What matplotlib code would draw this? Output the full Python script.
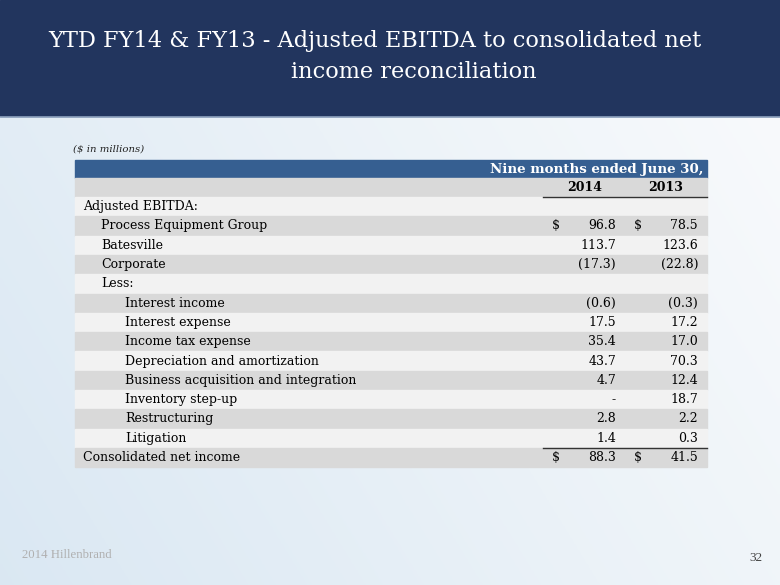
import numpy as np
import matplotlib.pyplot as plt
from matplotlib.patches import Rectangle

title_lines = ["YTD FY14 & FY13 - Adjusted EBITDA to consolidated net",
               "income reconciliation"]
units = "($ in millions)"
period = "Nine months ended June 30,"
years = ["2014", "2013"]

labels = ["Adjusted EBITDA:", "Process Equipment Group", "Batesville", "Corporate",
          "Less:", "Interest income", "Interest expense", "Income tax expense",
          "Depreciation and amortization", "Business acquisition and integration",
          "Inventory step-up", "Restructuring", "Litigation", "Consolidated net income"]
indent = [0, 1, 1, 1, 1, 2, 2, 2, 2, 2, 2, 2, 2, 0]
v2014 = ["", "96.8", "113.7", "(17.3)", "", "(0.6)", "17.5", "35.4", "43.7",
         "4.7", "-", "2.8", "1.4", "88.3"]
v2013 = ["", "78.5", "123.6", "(22.8)", "", "(0.3)", "17.2", "17.0", "70.3",
         "12.4", "18.7", "2.2", "0.3", "41.5"]
dollar_rows = [1, 13]

W, H = 780, 585
fig = plt.figure(figsize=(W / 100, H / 100), dpi=100)
ax = fig.add_axes([0, 0, 1, 1])
ax.set_xlim(0, W)
ax.set_ylim(H, 0)
ax.axis("off")

# background gradient
gx = np.linspace(0, 1, 200)
gy = np.linspace(0, 1, 200)
GX, GY = np.meshgrid(gx, gy)
g = np.clip(0.65 * GX + 0.3 * (1 - GY) + 0.05, 0, 1)
c0 = np.array([0.85, 0.905, 0.95])
c1 = np.array([0.98, 0.985, 0.99])
img = c0[None, None, :] * (1 - g[..., None]) + c1[None, None, :] * g[..., None]
ax.imshow(img, extent=[0, W, H, 0], aspect="auto", zorder=0)

# header banner
ax.add_patch(Rectangle((0, 0), W, 116, color="#22355e", zorder=1))
ax.plot([0, W], [116.5, 116.5], color="#8fa3bf", lw=1.2, zorder=2)
ax.text(375, 41, title_lines[0], color="white", fontsize=16.2, family="DejaVu Serif",
        ha="center", va="center", zorder=3)
ax.text(414, 72, title_lines[1], color="white", fontsize=16.2, family="DejaVu Serif",
        ha="center", va="center", zorder=3)

serif = "DejaVu Serif"
fs = 9
x0, x1 = 75, 707
ax.text(73, 149, units, fontsize=7.3, style="italic", family=serif, ha="left",
        va="center", color="#222222")

# table header rows
ax.add_patch(Rectangle((x0, 160), x1 - x0, 17.5, color="#365f91", zorder=1))
ax.text(703, 169, period, color="white", fontsize=9.6, weight="bold", family=serif,
        ha="right", va="center", zorder=3)
ax.add_patch(Rectangle((x0, 177.5), x1 - x0, 19.5, color="#d9d9d9", zorder=1))
ax.text(585, 187.5, years[0], fontsize=fs, weight="bold", family=serif,
        ha="center", va="center")
ax.text(666, 187.5, years[1], fontsize=fs, weight="bold", family=serif,
        ha="center", va="center")
ax.plot([543, x1], [197, 197], color="#333333", lw=1.0, zorder=3)

indent_x = [83, 101, 125]
top = 197
rh = 19.3
for i, lab in enumerate(labels):
    y = top + i * rh
    ax.add_patch(Rectangle((x0, y), x1 - x0, rh,
                           color="#d9d9d9" if i % 2 else "#f2f2f2", zorder=1))
    yc = y + rh / 2
    ax.text(indent_x[indent[i]], yc, lab, fontsize=fs, family=serif,
            ha="left", va="center", zorder=3)
    ax.text(616, yc, v2014[i], fontsize=fs, family=serif, ha="right", va="center", zorder=3)
    ax.text(698, yc, v2013[i], fontsize=fs, family=serif, ha="right", va="center", zorder=3)
    if i in dollar_rows:
        ax.text(556, yc, "$", fontsize=fs, family=serif, ha="center", va="center", zorder=3)
        ax.text(638, yc, "$", fontsize=fs, family=serif, ha="center", va="center", zorder=3)

ax.plot([543, x1], [top + 13 * rh, top + 13 * rh], color="#333333", lw=1.0, zorder=3)

# footer
ax.text(22, 555, "2014 Hillenbrand", fontsize=9.2, family="Liberation Serif",
        color="#b0b0b0", ha="left", va="center")
ax.text(763, 558, "32", fontsize=9.5, family="Liberation Serif",
        color="#444444", ha="right", va="center")

fig.savefig("out.png", dpi=100)
